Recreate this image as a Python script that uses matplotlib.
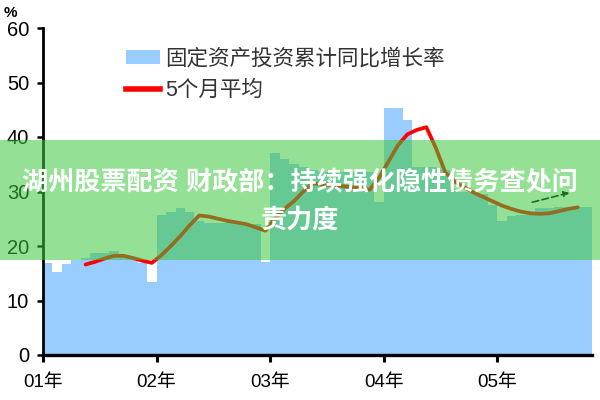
import matplotlib
matplotlib.use("Agg")
import matplotlib.pyplot as plt
from matplotlib.patches import Rectangle
from matplotlib.lines import Line2D
from matplotlib.patches import Patch
import numpy as np

plt.rcParams['font.family'] = ['Liberation Sans', 'Noto Sans CJK SC', 'DejaVu Sans']

# monthly cumulative YoY growth of fixed asset investment (%), Jan 2001 .. Oct 2005
fai_2001 = [16.8, 15.2, 16.7, 17.5, 17.8, 18.7, 18.7, 19.0, 18.0, 17.6, 16.8, 13.4]
fai_2002 = [25.7, 26.2, 27.0, 26.2, 24.5, 24.3, 24.2, 24.2, 24.0, 24.0, 24.0, 17.0]
fai_2003 = [37.0, 36.0, 35.0, 34.5, 34.0, 33.5, 33.5, 33.5, 33.5, 33.5, 33.5, 28.0]
fai_2004 = [45.3, 45.3, 43.1, 34.5, 34.5, 34.5, 34.0, 30.5, 30.0, 29.7, 29.5, 27.6]
fai_2005 = [24.5, 25.5, 25.7, 25.7, 27.0, 27.0, 27.2, 27.2, 27.2, 27.2]

# 5-month moving average line (starts at month index 4)
ma_start = 4
ma5 = [16.6, 17.1, 17.7, 18.2, 18.2, 17.8, 17.3, 16.9,
       18.3, 20.0, 21.8, 23.8, 25.6, 25.4, 25.0, 24.6, 24.3, 24.0, 23.4, 22.8,
       25.0, 26.8, 28.2, 30.0, 31.5, 31.3, 31.2, 31.0, 30.8, 30.7, 30.3, 32.5,
       35.5, 38.5, 40.5, 41.3, 41.8, 38.0, 33.5, 31.8, 30.8, 29.8, 29.0, 28.2,
       27.4, 26.8, 26.3, 26.0, 25.9, 26.0, 26.4, 26.8, 27.1]

year_labels = ['01年', '02年', '03年', '04年', '05年']
legend_bar = '固定资产投资累计同比增长率'
legend_line = '5个月平均'
banner_line1 = '湖州股票配资 财政部：持续强化隐性债务查处问'
banner_line2 = '责力度'

fai = fai_2001 + fai_2002 + fai_2003 + fai_2004 + fai_2005
months = np.arange(len(fai))
ma_x = np.arange(ma_start, ma_start + len(ma5)) + 0.5

fig = plt.figure(figsize=(6, 4), dpi=100)
ax = fig.add_axes([43/600, 1-355/400, 549/600, 327/400])

bar_color = '#99CCFF'
ax.bar(months, fai, width=1.0, align='edge', color=bar_color, linewidth=0, zorder=1)
ax.plot(ma_x, ma5, color='#FF0000', lw=2.7, solid_capstyle='round', zorder=3)

# trend arrow near the end
ax.annotate('', xy=(55.9, 29.9), xytext=(51.4, 27.9),
            arrowprops=dict(arrowstyle='-|>', color='black', lw=1.2,
                            linestyle=(0, (4, 2)), mutation_scale=8), zorder=4)

ax.set_xlim(0, len(fai))
ax.set_ylim(0, 60)
ax.set_yticks([0, 10, 20, 30, 40, 50, 60])
ax.set_xticks([0, 12, 24, 36, 48])
ax.set_xticklabels(year_labels)

for s in ['top', 'right']:
    ax.spines[s].set_visible(False)
ax.spines['left'].set_linewidth(2.0)
ax.spines['bottom'].set_linewidth(2.4)
ax.spines['left'].set_zorder(5)
ax.spines['bottom'].set_zorder(5)
ax.tick_params(axis='y', direction='out', length=4, width=1.8, labelsize=14.5, pad=6)
ax.tick_params(axis='x', direction='out', length=5, width=2.2, labelsize=13.5, pad=9)
ax.set_facecolor('none')

fig.text(4/600, 1-13/400, '%', fontsize=11, fontweight='bold', va='center', ha='left')

handles = [Patch(facecolor=bar_color, edgecolor='none'),
           Line2D([0], [0], color='#FF0000', lw=4)]
leg = ax.legend(handles, [legend_bar, legend_line], loc='upper left',
                bbox_to_anchor=(74/549, 1-12/327), frameon=False, fontsize=15.5,
                handlelength=1.6, handleheight=0.65, handletextpad=0.25, labelspacing=0.5,
                borderaxespad=0)
for t in leg.get_texts():
    t.set_color('#333333')

# overlay banner
fig.add_artist(Rectangle((0, 1-260/400), 1, 120/400, transform=fig.transFigure,
                         facecolor=(60/255, 200/255, 60/255), alpha=0.55,
                         edgecolor='none', zorder=10))
fig.text(0.5, 1-183/400, banner_line1, color='white', fontsize=18.8, fontweight='bold',
         ha='center', va='center', zorder=11)
fig.text(0.5, 1-220/400, banner_line2, color='white', fontsize=18.8, fontweight='bold',
         ha='center', va='center', zorder=11)

fig.savefig('out.png', dpi=100)
